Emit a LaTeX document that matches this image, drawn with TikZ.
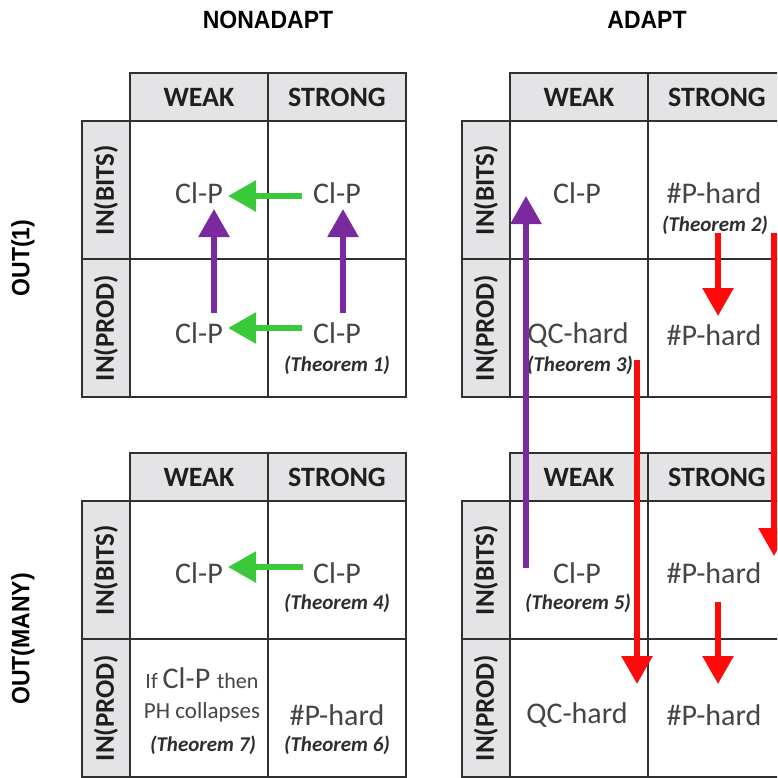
\documentclass[tikz,border=0pt]{standalone}
\usepackage{fontspec}
\setmainfont{Carlito}
\newfontfamily\titlefont[FakeStretch=0.92]{Liberation Sans}
\usetikzlibrary{arrows.meta}

\definecolor{hdrgray}{HTML}{E4E4E7}
\definecolor{gridc}{HTML}{303030}
\definecolor{celltext}{HTML}{454545}
\definecolor{arrgreen}{HTML}{3AC93A}
\definecolor{arrpurple}{HTML}{7A2A9E}
\definecolor{arrred}{HTML}{FF0A0A}

\tikzset{
  x=1pt, y=-1pt,
  hdrcell/.style={draw=gridc, line width=2.5pt, fill=hdrgray, inner sep=0pt,
    minimum width=138pt, minimum height=48pt,
    font=\bfseries\fontsize{28}{30}\selectfont, text=black!88},
  lblcell/.style={hdrcell, rotate=90, font=\bfseries\fontsize{27}{29}\selectfont},
  bodycell/.style={draw=gridc, line width=2.5pt, fill=white, inner sep=0pt,
    minimum width=138pt, minimum height=138pt},
  celltxt/.style={inner sep=0pt, text=celltext, font=\fontsize{30}{32}\selectfont},
  smalltxt/.style={inner sep=0pt, text=celltext, font=\fontsize{23}{25}\selectfont},
  thm/.style={inner sep=0pt, text=black!82, font=\bfseries\itshape\fontsize{21}{23}\selectfont},
  title/.style={inner sep=0pt, text=black, font=\titlefont\bfseries\fontsize{25}{27}\selectfont},
  tip/.style={-{Triangle[length=28pt,width=30pt]}},
  garrow/.style={draw=arrgreen, line width=5.5pt, tip},
  parrow/.style={draw=arrpurple, line width=5.5pt, tip},
  rarrow/.style={draw=arrred, line width=6pt, tip},
  pics/grid/.style={code={
    \node[bodycell] (-wb) at (117,117) {};
    \node[bodycell] (-sb) at (255,117) {};
    \node[bodycell] (-wp) at (117,255) {};
    \node[bodycell] (-sp) at (255,255) {};
    \node[hdrcell] (-w) at (117,24) {WEAK};
    \node[hdrcell] (-s) at (255,24) {STRONG};
    \node[lblcell] (-bits) at (24,117) {IN(BITS)};
    \node[lblcell] (-prod) at (24,255) {IN(PROD)};
  }}
}

\begin{document}
\begin{tikzpicture}
\useasboundingbox (0,0) rectangle (777,778);
\clip (0,0) rectangle (777,778);

% column and row titles
\node[title] (nonadapt) at (268,20) {NONADAPT};
\node[title] (adapt) at (647,20) {ADAPT};
\node[title, rotate=90] (out1) at (23,258) {OUT(1)};
\node[title, rotate=90] (outmany) at (23,639) {OUT(MANY)};

% the four tables
\pic (tl) at (82,73) {grid};
\pic (tr) at (462,73) {grid};
\pic (bl) at (82,453) {grid};
\pic (br) at (462,453) {grid};

% top-left: nonadaptive, one output
\node[celltxt] (a1) at (199,193) {Cl-P};
\node[celltxt] (a2) at (337,193) {Cl-P};
\node[celltxt] (a3) at (199,333) {Cl-P};
\node[celltxt] (a4) at (337,333) {Cl-P};
\node[thm] (t1) at (337,365) {(Theorem 1)};

% top-right: adaptive, one output
\node[celltxt] (b1) at (577,193) {Cl-P};
\node[celltxt] (b2) at (714,193) {\#P-hard};
\node[thm] (t2) at (715,225) {(Theorem 2)};
\node[celltxt] (b3) at (578,335) {QC-hard};
\node[thm] (t3) at (580,365) {(Theorem 3)};
\node[celltxt] (b4) at (714,335) {\#P-hard};

% bottom-left: nonadaptive, many outputs
\node[celltxt] (c1) at (199,573) {Cl-P};
\node[celltxt] (c2) at (337,573) {Cl-P};
\node[thm] (t4) at (337,603) {(Theorem 4)};
\node[inner sep=0pt, text=celltext] (c3) at (202,678)
  {\fontsize{22}{24}\selectfont If \fontsize{30}{32}\selectfont Cl-P \fontsize{22}{24}\selectfont then};
\node[smalltxt] (c3b) at (202,712) {PH collapses};
\node[thm] (t7) at (203,745) {(Theorem 7)};
\node[celltxt] (c4) at (337,715) {\#P-hard};
\node[thm] (t6) at (337,745) {(Theorem 6)};

% bottom-right: adaptive, many outputs
\node[celltxt] (d1) at (577,573) {Cl-P};
\node[thm] (t5) at (578,603) {(Theorem 5)};
\node[celltxt] (d2) at (714,573) {\#P-hard};
\node[celltxt] (d3) at (577,715) {QC-hard};
\node[celltxt] (d4) at (714,715) {\#P-hard};

% arrow end points
\coordinate (g1s) at (302,196); \coordinate (g1e) at (228,196);
\coordinate (g2s) at (302,328); \coordinate (g2e) at (228,328);
\coordinate (g3s) at (303,567); \coordinate (g3e) at (228,567);
\coordinate (p1s) at (214,313); \coordinate (p1e) at (214,209);
\coordinate (p2s) at (343,313); \coordinate (p2e) at (343,209);
\coordinate (p3s) at (526,568); \coordinate (p3e) at (526,196);
\coordinate (r1s) at (718,233); \coordinate (r1e) at (718,316);
\coordinate (r2s) at (774,233); \coordinate (r2e) at (774,556);
\coordinate (r3s) at (637,360); \coordinate (r3e) at (637,684);
\coordinate (r4s) at (718,602); \coordinate (r4e) at (718,684);

% implications
\draw[garrow] (g1s) -- (g1e);
\draw[garrow] (g2s) -- (g2e);
\draw[garrow] (g3s) -- (g3e);
\draw[parrow] (p1s) -- (p1e);
\draw[parrow] (p2s) -- (p2e);
\draw[parrow] (p3s) -- (p3e);
\draw[rarrow] (r1s) -- (r1e);
\draw[rarrow] (r2s) -- (r2e);
\draw[rarrow] (r3s) -- (r3e);
\draw[rarrow] (r4s) -- (r4e);
\end{tikzpicture}
\end{document}
